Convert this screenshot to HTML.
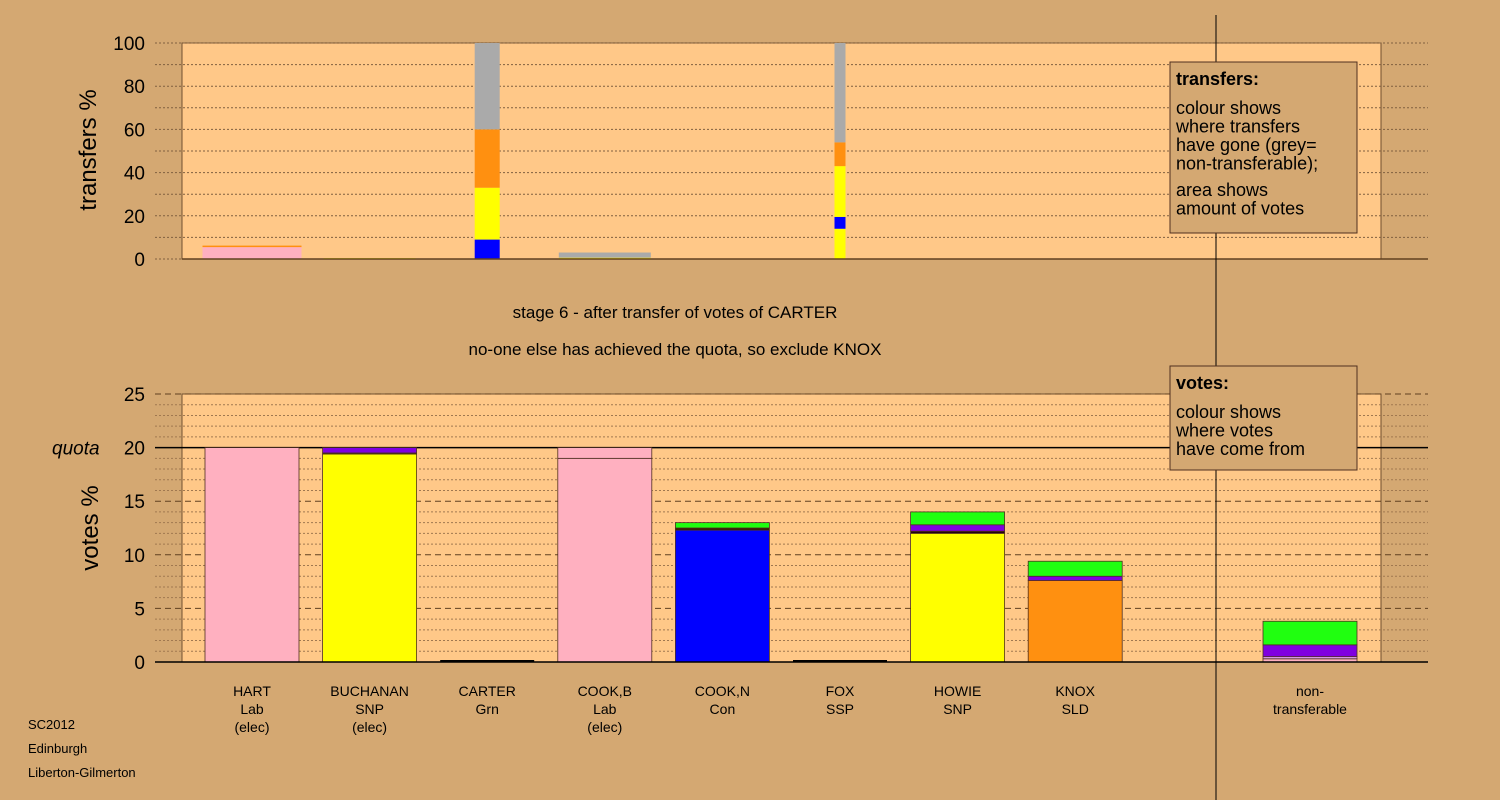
<!DOCTYPE html>
<html><head><meta charset="utf-8"><style>
body{margin:0;background:#d4a872;font-family:"Liberation Sans",sans-serif}
svg{display:block}
</style></head><body>
<svg id="c" width="1500" height="800" xmlns="http://www.w3.org/2000/svg">
<rect width="1500" height="800" fill="#d4a872"/>
<g id="gtop"></g><g id="gbot"></g><g id="glab"></g>
</svg>
<script>
const candidates=["HART","BUCHANAN","CARTER","COOK,B","COOK,N","FOX","HOWIE","KNOX"];
const parties=["Lab","SNP","Grn","Lab","Con","SSP","SNP","SLD"];
const elected=[true,true,false,true,false,false,false,false];
const transferWidth=[99,92,25,92,0,11,0,0];
const transferSegments=[
 [["#ffb0c0",5.5],["#ff9010",0.7]],
 [["#ffff00",0.4]],
 [["#0000ff",9],["#ffff00",24],["#ff9010",27],["#aaaaaa",40]],
 [["#ffff00",0.6],["#aaaaaa",2.4]],
 [],
 [["#ffff00",14],["#0000ff",5.5],["#ffff00",23.5],["#ff9010",11],["#aaaaaa",46]],
 [],[]];
const voteSegments=[
 [["#ffb0c0",20]],
 [["#ffff00",19.4],["#302000",0.1],["#8000e0",0.5]],
 [],
 [["#ffb0c0",19],["#ffb0c0",1]],
 [["#0000ff",12.3],["#302000",0.2],["#20ff10",0.5]],
 [],
 [["#ffff00",12],["#200010",0.2],["#8000e0",0.6],["#20ff10",1.2]],
 [["#ff9010",7.6],["#8000e0",0.4],["#20ff10",1.4]]];
const nonTransferable=[["#ffb0c0",0.3],["#e0a0f0",0.2],["#8000e0",1.1],["#20ff10",2.2]];
const topTicks=[0,20,40,60,80,100];
const botTicks=[0,5,10,15,20,25];

const NS="http://www.w3.org/2000/svg";
function mk(p,t,a,txt){const e=document.createElementNS(NS,t);for(const k in a)e.setAttribute(k,a[k]);if(txt!==undefined)e.textContent=txt;p.appendChild(e);return e;}
const topG=document.getElementById('gtop'),botG=document.getElementById('gbot'),labG=document.getElementById('glab');
const yT=v=>259-v*2.16, yB=v=>662-v*10.72;
const xC=i=>252+i*117.6;
let r=mk(topG,'rect',{x:182,y:43,width:1199,height:216,fill:'#ffc888',stroke:'#705030'});


for(let v=0;v<=100;v+=10){let l=mk(topG,'line',{x1:155,x2:1428,y1:yT(v),y2:yT(v),stroke:'#806040','stroke-dasharray':'2,2','stroke-width':1});

}
topTicks.forEach(v=>{let t=mk(topG,'text',{x:145,y:yT(v)+7,'text-anchor':'end','font-size':19},v);

});
let yt=mk(topG,'text',{transform:'translate(96,150) rotate(-90)','text-anchor':'middle','font-size':24},'transfers %');


transferSegments.forEach((segs,i)=>{let acc=0;const w=transferWidth[i];segs.forEach(([c,h])=>{let b=mk(topG,'rect',{x:xC(i)-w/2,y:yT(acc+h),width:w,height:h*2.16,fill:c});


acc+=h;});});
mk(topG,'line',{x1:182,x2:1428,y1:259,y2:259,stroke:'#604020','stroke-width':1.5});
r=mk(botG,'rect',{x:182,y:394,width:1199,height:268,fill:'#ffc888',stroke:'#705030'});


for(let v=0;v<=25;v++){let a={x1:155,x2:1428,y1:yB(v),y2:yB(v),stroke:'#604020','stroke-width':1};
 if(v===20){a.stroke='#000';a['stroke-width']=1.5;}else if(v%5===0){a['stroke-dasharray']='6,4';}else{a['stroke-dasharray']='2,2';a.stroke='#a07850';}
 let l=mk(botG,'line',a);
 
 }
botTicks.forEach(v=>{let t=mk(botG,'text',{x:145,y:yB(v)+7,'text-anchor':'end','font-size':19},v);

});
let q=mk(botG,'text',{x:52,y:yB(20)+7,'font-size':19,'font-style':'italic'},'quota');


let vt=mk(botG,'text',{transform:'translate(98,528) rotate(-90)','text-anchor':'middle','font-size':24},'votes %');


function stack(segs,cx,name){let acc=0;segs.forEach(([c,h])=>{let b=mk(botG,'rect',{x:cx-47,y:yB(acc+h),width:94,height:h*10.72,fill:c,stroke:'#503020','stroke-width':0.8});
 
 
 acc+=h;});
 if(!segs.length){let l=mk(botG,'line',{x1:cx-47,x2:cx+47,y1:661,y2:661,stroke:'#000','stroke-width':2});
 
 }}
voteSegments.forEach((s,i)=>stack(s,xC(i),'vote-bar-'+candidates[i].toLowerCase().replace(',','-')));
stack(nonTransferable,1310,'vote-bar-non-transferable');
mk(botG,'line',{x1:155,x2:1428,y1:662,y2:662,stroke:'#000','stroke-width':1.5});
candidates.forEach((c,i)=>{const lines=[c,parties[i]];if(elected[i])lines.push('(elec)');lines.forEach((s,j)=>{let t=mk(labG,'text',{x:xC(i),y:696+j*18,'text-anchor':'middle','font-size':14},s);

});});
['non-','transferable'].forEach((s,j)=>{let t=mk(labG,'text',{x:1310,y:696+j*18,'text-anchor':'middle','font-size':14},s);

});
['SC2012','Edinburgh','Liberton-Gilmerton'].forEach((s,j)=>{let t=mk(labG,'text',{x:28,y:729+j*24,'font-size':13},s);

});
let t1=mk(labG,'text',{x:675,y:318,'text-anchor':'middle','font-size':17},'stage 6 - after transfer of votes of CARTER');


let t2=mk(labG,'text',{x:675,y:355,'text-anchor':'middle','font-size':17},'no-one else has achieved the quota, so exclude KNOX');


let vl=mk(labG,'line',{x1:1216,x2:1216,y1:15,y2:800,stroke:'#000','stroke-width':1});


function box(y,h,title,lines,name,gaps){let g=mk(labG,'g',{});
 
 
 mk(g,'rect',{x:1170,y:y,width:187,height:h,fill:'#d4a872',stroke:'#503020'});
 mk(g,'text',{x:1176,y:y+23,'font-size':18,'font-weight':'bold'},title);
 let yy=y+52;lines.forEach((s,j)=>{if(gaps.includes(j))yy+=8;mk(g,'text',{x:1176,y:yy,'font-size':18},s);yy+=18.5;});}
box(62,171,'transfers:',['colour shows','where transfers','have gone (grey=','non-transferable);','area shows','amount of votes'],'transfers-legend',[4]);
box(366,104,'votes:',['colour shows','where votes','have come from'],'votes-legend',[]);
</script>
</body></html>
